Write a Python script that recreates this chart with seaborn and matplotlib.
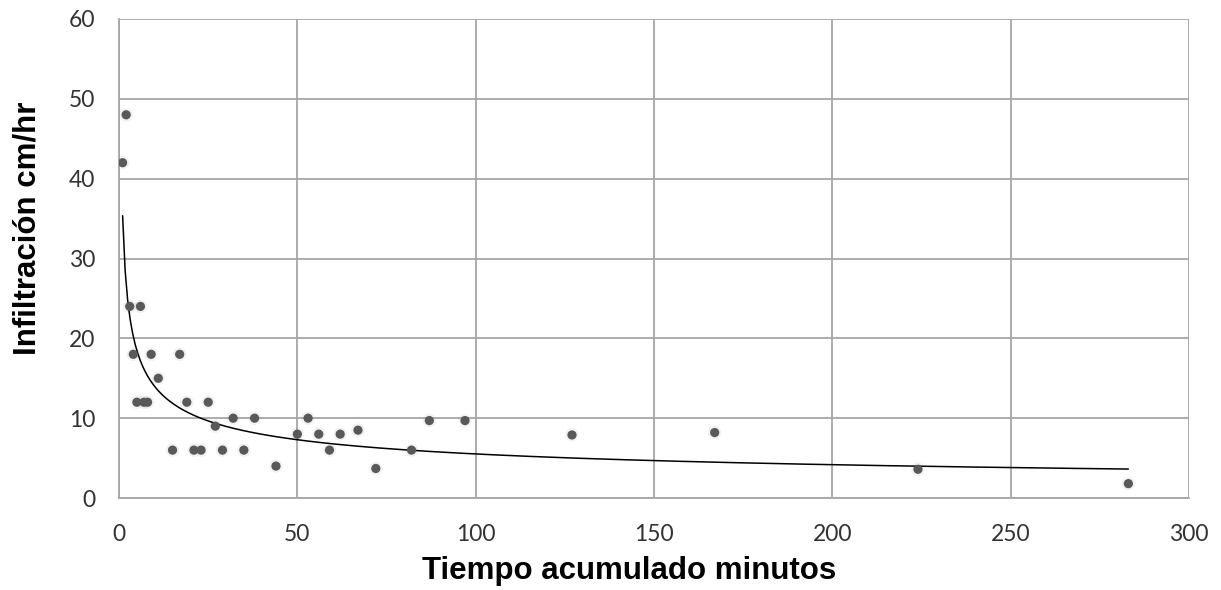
import matplotlib
matplotlib.use('Agg')
import matplotlib.pyplot as plt
import numpy as np
import pandas as pd
import seaborn as sns

# tiempo acumulado (min) and infiltracion (cm/hr)
tiempo = [1, 2, 3, 4, 5, 6, 7, 8, 9, 11, 15, 17, 19, 21, 23, 25, 27, 29,
          32, 35, 38, 44, 50, 53, 56, 59, 62, 67, 72, 82, 87, 97, 127, 167,
          224, 283]
infiltracion = [42, 48, 24, 18, 12, 24, 12, 12, 18, 15, 6, 18, 12, 6, 6, 12,
                9, 6, 10, 6, 10, 4, 8, 10, 8, 6, 8, 8.5, 3.7, 6, 9.7, 9.7,
                7.9, 8.2, 3.6, 1.8]

x_ticks = [0, 50, 100, 150, 200, 250, 300]
y_ticks = [0, 10, 20, 30, 40, 50, 60]

df = pd.DataFrame({'tiempo': tiempo, 'infiltracion': infiltracion})

# power trendline (least squares on log-log, like a spreadsheet trendline)
b, ln_a = np.polyfit(np.log(df['tiempo']), np.log(df['infiltracion']), 1)
xs = np.linspace(df['tiempo'].min(), df['tiempo'].max(), 400)
trend = pd.DataFrame({'tiempo': xs, 'infiltracion': np.exp(ln_a) * xs ** b})

sns.set_theme(style='white')
plt.rcParams['font.family'] = ['Liberation Sans', 'DejaVu Sans']

fig = plt.figure(figsize=(12.21, 5.9), dpi=100)
ax = fig.add_axes([0.0975, 0.1559, 0.8763, 0.8119])

sns.lineplot(data=trend, x='tiempo', y='infiltracion', ax=ax,
             color='black', linewidth=1.1, zorder=3)
# faint shadow under the markers
sns.scatterplot(data=df, x='tiempo', y='infiltracion', ax=ax,
                color='#9a9a9a', alpha=0.12, s=95, edgecolor='none',
                zorder=2, legend=False)
sns.scatterplot(data=df, x='tiempo', y='infiltracion', ax=ax,
                color='#595959', s=44, edgecolor='none', zorder=4)

ax.set_xlim(0, 300)
ax.set_ylim(0, 60)
ax.set_xticks(x_ticks)
ax.set_yticks(y_ticks)
ax.grid(True, color='#a6a6a6', linewidth=1.3)
ax.set_axisbelow(True)
for side in ['top', 'right']:
    ax.spines[side].set_visible(False)
for side in ['left', 'bottom']:
    ax.spines[side].set_color('#a6a6a6')
    ax.spines[side].set_linewidth(1.3)
ax.tick_params(axis='both', which='major', length=7, width=1.3,
               color='#a6a6a6', labelcolor='#333333', direction='out', pad=10)
ax.tick_params(axis='x', pad=12)
for lab in ax.get_xticklabels() + ax.get_yticklabels():
    lab.set_fontfamily(['Lato', 'DejaVu Sans'])
    lab.set_fontsize(16.5)

ax.set_xlabel('Tiempo acumulado minutos', fontsize=22.5, fontweight='bold',
              color='black')
ax.set_ylabel('Infiltración cm/hr', fontsize=22.5, fontweight='bold',
              color='black')
ax.xaxis.set_label_coords(0.4766, -0.121)
ax.yaxis.set_label_coords(-0.072, 0.562)

fig.savefig('out.png', dpi=100)
